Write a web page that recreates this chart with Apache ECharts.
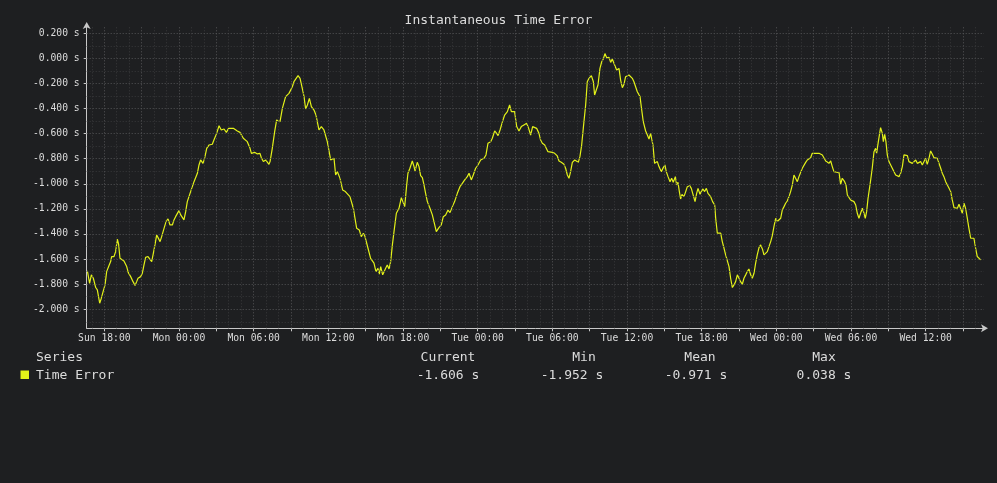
<!DOCTYPE html>
<html>
<head>
<meta charset="utf-8">
<script src="https://cdn.jsdelivr.net/npm/echarts@6/dist/echarts.min.js"></script>
<style>
html,body{margin:0;padding:0;background:#1e1f21;}
#chart{width:997px;height:483px;}
</style>
</head>
<body>
<div id="chart"></div>
<script>
// Time (hours since Sun 00:00) and instantaneous time error (s)
const timeErrorPoints = [
[16.64,-1.695],[16.82,-1.793],[16.96,-1.726],[17.12,-1.753],[17.31,-1.827],[17.44,-1.846],[17.63,-1.952],[17.76,-1.912],[17.92,-1.854],[18.06,-1.806],
[18.19,-1.700],[18.38,-1.652],[18.51,-1.620],[18.59,-1.580],[18.78,-1.580],[18.91,-1.541],[19.05,-1.442],[19.15,-1.482],[19.26,-1.594],[19.37,-1.607],
[19.58,-1.615],[19.80,-1.660],[19.93,-1.708],[20.12,-1.740],[20.31,-1.780],[20.47,-1.811],[20.60,-1.780],[20.71,-1.753],[20.92,-1.740],[21.06,-1.713],
[21.19,-1.647],[21.32,-1.586],[21.51,-1.580],[21.65,-1.594],[21.81,-1.620],[21.94,-1.554],[22.07,-1.487],[22.21,-1.408],[22.32,-1.429],[22.48,-1.461],
[22.61,-1.421],[22.80,-1.355],[22.98,-1.296],[23.12,-1.280],[23.28,-1.328],[23.47,-1.328],[23.60,-1.288],[23.73,-1.262],[23.87,-1.275],[24.00,-1.214],
[24.14,-1.248],[24.27,-1.262],[24.40,-1.288],[24.54,-1.222],[24.67,-1.142],[24.89,-1.076],[25.07,-1.023],[25.21,-0.983],[25.48,-0.916],[25.61,-0.850],
[25.74,-0.810],[25.93,-0.837],[26.06,-0.797],[26.23,-0.717],[26.41,-0.691],[26.68,-0.685],[26.81,-0.651],[27.03,-0.598],[27.22,-0.537],[27.40,-0.571],
[27.62,-0.563],[27.81,-0.590],[27.99,-0.558],[28.15,-0.552],[28.37,-0.558],
[28.42,-0.571],[28.69,-0.579],[28.90,-0.590],[29.17,-0.637],[29.49,-0.664],[29.71,-0.717],[29.82,-0.757],[30.08,-0.749],[30.30,-0.762],[30.51,-0.757],
[30.62,-0.792],[30.78,-0.823],[30.97,-0.810],[31.23,-0.845],[31.32,-0.823],[31.50,-0.717],[31.69,-0.584],[31.85,-0.491],[32.12,-0.505],[32.31,-0.398],
[32.57,-0.305],[32.84,-0.279],[33.11,-0.226],[33.24,-0.186],[33.38,-0.173],[33.57,-0.138],[33.73,-0.159],[33.91,-0.239],[34.05,-0.305],[34.18,-0.404],
[34.32,-0.372],[34.48,-0.319],[34.64,-0.385],[34.85,-0.412],[35.01,-0.452],[35.25,-0.571],[35.44,-0.544],[35.65,-0.571],[35.92,-0.664],[36.19,-0.810],
[36.35,-0.823],[36.46,-0.797],[36.59,-0.930],[36.73,-0.903],[36.94,-0.956],[37.15,-1.049],[37.37,-1.062],[37.53,-1.076],[37.74,-1.102],[37.85,-1.089],
[38.01,-1.195],[38.28,-1.355],[38.49,-1.368],[38.65,-1.421],[38.82,-1.394],[38.95,-1.421],[39.19,-1.514],[39.40,-1.594],[39.67,-1.633],[39.83,-1.700],
[39.99,-1.673],[40.10,-1.721],[40.21,-1.660],[40.37,-1.726],
[40.61,-1.673],[40.74,-1.647],[40.88,-1.679],[41.01,-1.620],[41.15,-1.487],[41.28,-1.381],[41.47,-1.235],[41.68,-1.195],[41.87,-1.110],[42.00,-1.116],
[42.14,-1.182],[42.30,-1.009],[42.40,-0.916],[42.56,-0.876],[42.75,-0.818],[42.89,-0.863],[42.97,-0.898],[43.15,-0.829],[43.29,-0.863],[43.42,-0.935],
[43.56,-0.951],[43.69,-1.009],[43.82,-1.076],[43.96,-1.142],[44.17,-1.195],[44.36,-1.248],[44.49,-1.301],[44.68,-1.381],[44.89,-1.349],[45.08,-1.328],
[45.24,-1.262],[45.43,-1.248],[45.62,-1.209],[45.78,-1.230],[45.97,-1.182],[46.15,-1.142],[46.37,-1.076],[46.58,-1.023],[46.77,-0.996],[46.96,-0.969],
[47.17,-0.943],[47.31,-0.916],[47.49,-0.969],[47.65,-0.930],[47.84,-0.876],[48.03,-0.850],[48.24,-0.810],[48.51,-0.797],[48.67,-0.770],[48.83,-0.677],
[49.05,-0.664],[49.18,-0.637],[49.37,-0.579],[49.53,-0.598],[49.64,-0.616],[49.80,-0.571],[49.98,-0.510],[50.17,-0.452],[50.39,-0.425],[50.57,-0.372],
[50.71,-0.425],[50.87,-0.412],[50.97,-0.425],[51.14,-0.544],[51.32,-0.579],[51.51,-0.544],[51.72,-0.531],[51.94,-0.518],[52.10,-0.558],[52.26,-0.611],
[52.42,-0.544],
[52.53,-0.531],[52.74,-0.558],[52.93,-0.598],[53.06,-0.651],[53.20,-0.677],[53.39,-0.691],[53.55,-0.704],[53.65,-0.744],[53.81,-0.738],[54.00,-0.749],
[54.19,-0.757],[54.40,-0.778],[54.54,-0.818],[54.72,-0.829],[54.94,-0.845],[55.07,-0.876],[55.21,-0.930],[55.34,-0.956],[55.47,-0.903],[55.61,-0.829],
[55.80,-0.810],[55.96,-0.802],[56.09,-0.829],[56.22,-0.784],[56.36,-0.691],[56.49,-0.558],[56.68,-0.372],[56.81,-0.186],[56.95,-0.159],[57.14,-0.138],
[57.30,-0.186],[57.40,-0.292],[57.54,-0.292],[57.67,-0.212],[57.83,-0.080],[57.97,-0.027],[58.10,-0.005],[58.23,0.038],[58.37,0.005],[58.56,0.008],
[58.69,-0.032],[58.82,-0.005],[59.01,-0.053],[59.17,-0.093],[59.36,-0.080],[59.49,-0.173],[59.63,-0.234],[59.76,-0.207],[59.89,-0.146],[60.03,-0.154],
[60.16,-0.133],[60.30,-0.127],[60.43,-0.159],[60.56,-0.186],[60.83,-0.266],[61.05,-0.305],[61.15,-0.385],[61.31,-0.505],[61.50,-0.579],[61.64,-0.611],
[61.77,-0.643],[61.90,-0.598],[62.09,-0.691],[62.22,-0.837],[62.33,-0.850],[62.44,-0.823],[62.57,-0.863],[62.76,-0.903],[62.92,-0.871],[63.05,-0.850],
[63.16,-0.903],[63.30,-0.943],[63.46,-0.983],[63.59,-0.956],[63.72,-0.988],[63.89,-0.943],[63.99,-1.009],[64.10,-0.988],[64.21,-1.062],[64.31,-1.121],
[64.42,-1.084],[64.58,-1.102],
[64.72,-1.062],[64.85,-1.023],[65.04,-1.015],[65.17,-1.036],[65.33,-1.049],[65.47,-1.142],[65.60,-1.076],[65.71,-1.036],[65.87,-1.084],[65.97,-1.062],
[66.11,-1.041],[66.24,-1.062],[66.38,-1.036],[66.51,-1.076],[66.62,-1.062],[66.72,-1.102],[66.88,-1.142],[67.05,-1.169],[67.13,-1.275],[67.26,-1.394],
[67.39,-1.408],[67.53,-1.394],[67.66,-1.461],[67.80,-1.514],[67.93,-1.567],[68.06,-1.567],[68.20,-1.660],[68.33,-1.753],[68.47,-1.827],[68.60,-1.806],
[68.73,-1.780],[68.87,-1.726],[69.00,-1.740],[69.13,-1.780],[69.27,-1.801],[69.40,-1.753],[69.54,-1.726],[69.67,-1.700],[69.80,-1.679],[69.94,-1.726],
[70.07,-1.753],[70.21,-1.713],[70.34,-1.633],[70.47,-1.567],[70.61,-1.509],[70.74,-1.487],[70.88,-1.519],[71.01,-1.567],[71.14,-1.580],[71.28,-1.541],
[71.41,-1.501],[71.55,-1.461],[71.68,-1.413],[71.81,-1.341],[71.95,-1.275],[72.08,-1.301],[72.22,-1.301],[72.35,-1.275],[72.48,-1.209],[72.62,-1.182],
[72.75,-1.155],[72.88,-1.137],[73.02,-1.102],[73.15,-1.062],[73.29,-1.009],[73.42,-0.930],[73.55,-0.916],[73.69,-0.983],[73.82,-0.943],[73.96,-0.930],
[74.09,-0.876],[74.22,-0.863],[74.36,-0.829],[74.49,-0.810],[74.63,-0.797],[74.76,-0.792],[74.89,-0.757],[75.03,-0.749],[75.16,-0.757],[75.30,-0.749],
[75.43,-0.757],[75.56,-0.757],[75.70,-0.770],[75.83,-0.778],[75.97,-0.818],[76.10,-0.823],[76.23,-0.837],[76.37,-0.818],[76.50,-0.863],
[76.63,-0.903],[76.85,-0.908],[77.04,-0.911],[77.17,-1.004],[77.30,-0.956],[77.38,-0.951],[77.49,-0.983],[77.60,-1.009],[77.71,-1.089],[77.84,-1.102],
[77.97,-1.129],[78.11,-1.137],[78.24,-1.142],[78.38,-1.169],[78.51,-1.235],[78.64,-1.275],[78.78,-1.262],[78.91,-1.195],[79.05,-1.235],[79.15,-1.275],
[79.26,-1.222],[79.37,-1.116],[79.53,-1.009],[79.71,-0.876],[79.85,-0.744],[79.98,-0.717],[80.06,-0.757],[80.20,-0.664],[80.38,-0.552],[80.52,-0.598],
[80.60,-0.664],[80.71,-0.606],[80.81,-0.664],[80.92,-0.770],[81.05,-0.823],[81.19,-0.810],[81.32,-0.876],[81.46,-0.882],[81.59,-0.930],[81.72,-0.943],
[81.86,-0.943],[81.99,-0.916],[82.13,-0.863],[82.26,-0.770],[82.39,-0.765],[82.53,-0.776],[82.66,-0.823],[82.80,-0.829],[82.93,-0.837],[83.06,-0.845],
[83.20,-0.810],[83.33,-0.837],[83.46,-0.829],[83.60,-0.823],[83.73,-0.850],[83.87,-0.845],[84.00,-0.797],[84.13,-0.845],[84.27,-0.797],[84.40,-0.738],
[84.54,-0.765],[84.67,-0.792],[84.80,-0.784],[84.94,-0.797],[85.07,-0.810],[85.21,-0.876],[85.34,-0.916],[85.47,-0.943],[85.61,-0.983],[85.74,-0.969],
[85.88,-1.036],[86.01,-1.062],[86.14,-1.129],[86.28,-1.190],[86.41,-1.201],[86.55,-1.195],[86.68,-1.163],[86.81,-1.174],[86.95,-1.235],[87.08,-1.155],
[87.21,-1.195],[87.35,-1.275],[87.48,-1.355],[87.62,-1.434],[87.75,-1.429],[87.88,-1.434],[88.02,-1.514],[88.15,-1.580],[88.29,-1.567],[88.42,-1.606]
];

const yTickValues = [-2.0,-1.8,-1.6,-1.4,-1.2,-1.0,-0.8,-0.6,-0.4,-0.2,0.0,0.2];
const yMinorValues = [-2.1,-1.9,-1.7,-1.5,-1.3,-1.1,-0.9,-0.7,-0.5,-0.3,-0.1,0.1];
const xMajorHours = [18,21,24,27,30,33,36,39,42,45,48,51,54,57,60,63,66,69,72,75,78,81,84,87];
const xMinorHours = [17,19,20,22,23,25,26,28,29,31,32,34,35,37,38,40,41,43,44,46,47,49,50,52,53,55,56,58,59,61,62,64,65,67,68,70,71,73,74,76,77,79,80,82,83,85,86,88];
const xLabelHours = [18,24,30,36,42,48,54,60,66,72,78,84];
const dayNames = ['Sun','Mon','Tue','Wed','Thu'];
const statNames = ['Current','Min','Mean','Max'];
const statValues = ['-1.606 s','-1.952 s','-0.971 s','0.038 s'];
const seriesName = 'Time Error';

const MONO = '"DejaVu Sans Mono", monospace';
const LINE_COLOR = '#e3f219';
const TEXT = '#dcdcdc';
const AXIS = '#c8c8c8';
const MAJOR_GRID = '#545557';
const MINOR_GRID = '#38393b';

function fmtHour(h){
  const d = Math.floor(h/24), hh = h % 24;
  return dayNames[d] + ' ' + String(hh).padStart(2,'0') + ':00';
}

const gridLines = []
  .concat(xMinorHours.map(h => ({xAxis: h, lineStyle: {color: MINOR_GRID}})))
  .concat(yMinorValues.map(v => ({yAxis: v, lineStyle: {color: MINOR_GRID}})))
  .concat(xMajorHours.map(h => ({xAxis: h, lineStyle: {color: MAJOR_GRID}})))
  .concat(yTickValues.map(v => ({yAxis: v, lineStyle: {color: MAJOR_GRID}})));

const headerX = [448, 584, 700, 824];
const valueX = [448, 572, 696, 824];

const graphics = [
  {type:'text', left:36, top:351, style:{text:'Series', font:'13px '+MONO, fill:TEXT}},
  {type:'rect', shape:{x:20.5, y:370.5, width:8.5, height:8.5}, style:{fill:LINE_COLOR}},
  {type:'text', left:36, top:369, style:{text:seriesName, font:'13px '+MONO, fill:TEXT}}
];
statNames.forEach((n,i) => {
  graphics.push({type:'text', x:headerX[i], y:358, style:{text:n, font:'13px '+MONO, fill:TEXT, textAlign:'center', textVerticalAlign:'middle'}});
  graphics.push({type:'text', x:valueX[i], y:376, style:{text:statValues[i], font:'13px '+MONO, fill:TEXT, textAlign:'center', textVerticalAlign:'middle'}});
});

const chart = echarts.init(document.getElementById('chart'), null, {renderer:'canvas'});
chart.setOption({
  backgroundColor: '#1e1f21',
  animation: false,
  title: {
    text: 'Instantaneous Time Error',
    left: 'center', top: 9,
    textStyle: {color: TEXT, fontFamily: MONO, fontSize: 13, fontWeight: 'normal'}
  },
  grid: {left: 86.7, right: 13, top: 26, bottom: 154.7, containLabel: false},
  xAxis: {
    type: 'value', min: 16.586, max: 88.69,
    axisLine: {show: true, onZero: false, lineStyle: {color: AXIS, width: 1}, symbol: ['none','arrow'], symbolSize: [6,7], symbolOffset: [0,4]},
    axisTick: {show: true, customValues: xMajorHours, length: 3, lineStyle: {color: AXIS}},
    axisLabel: {customValues: xLabelHours, formatter: fmtHour, color: TEXT, fontFamily: MONO, fontSize: 9.7, margin: 5},
    splitLine: {show: false}
  },
  yAxis: {
    type: 'value', min: -2.152, max: 0.258,
    axisLine: {show: true, onZero: false, lineStyle: {color: AXIS, width: 1}, symbol: ['none','arrow'], symbolSize: [6,7], symbolOffset: [0,4]},
    axisTick: {show: true, customValues: yTickValues, length: 3, lineStyle: {color: AXIS}},
    axisLabel: {customValues: yTickValues, formatter: v => v.toFixed(3) + ' s', color: TEXT, fontFamily: MONO, fontSize: 9.7, margin: 7},
    splitLine: {show: false}
  },
  graphic: graphics,
  series: [
    {
      type: 'line', name: 'grid', data: [], silent: true, z: 1,
      markLine: {silent: true, symbol: ['none','none'], label: {show: false},
        lineStyle: {type: [1,2], width: 1}, emphasis: {disabled: true}, animation: false, data: gridLines}
    },
    {
      type: 'line', name: seriesName, data: timeErrorPoints, showSymbol: false, z: 3,
      lineStyle: {color: LINE_COLOR, width: 1.2}, itemStyle: {color: LINE_COLOR}
    }
  ]
});
</script>
</body>
</html>
